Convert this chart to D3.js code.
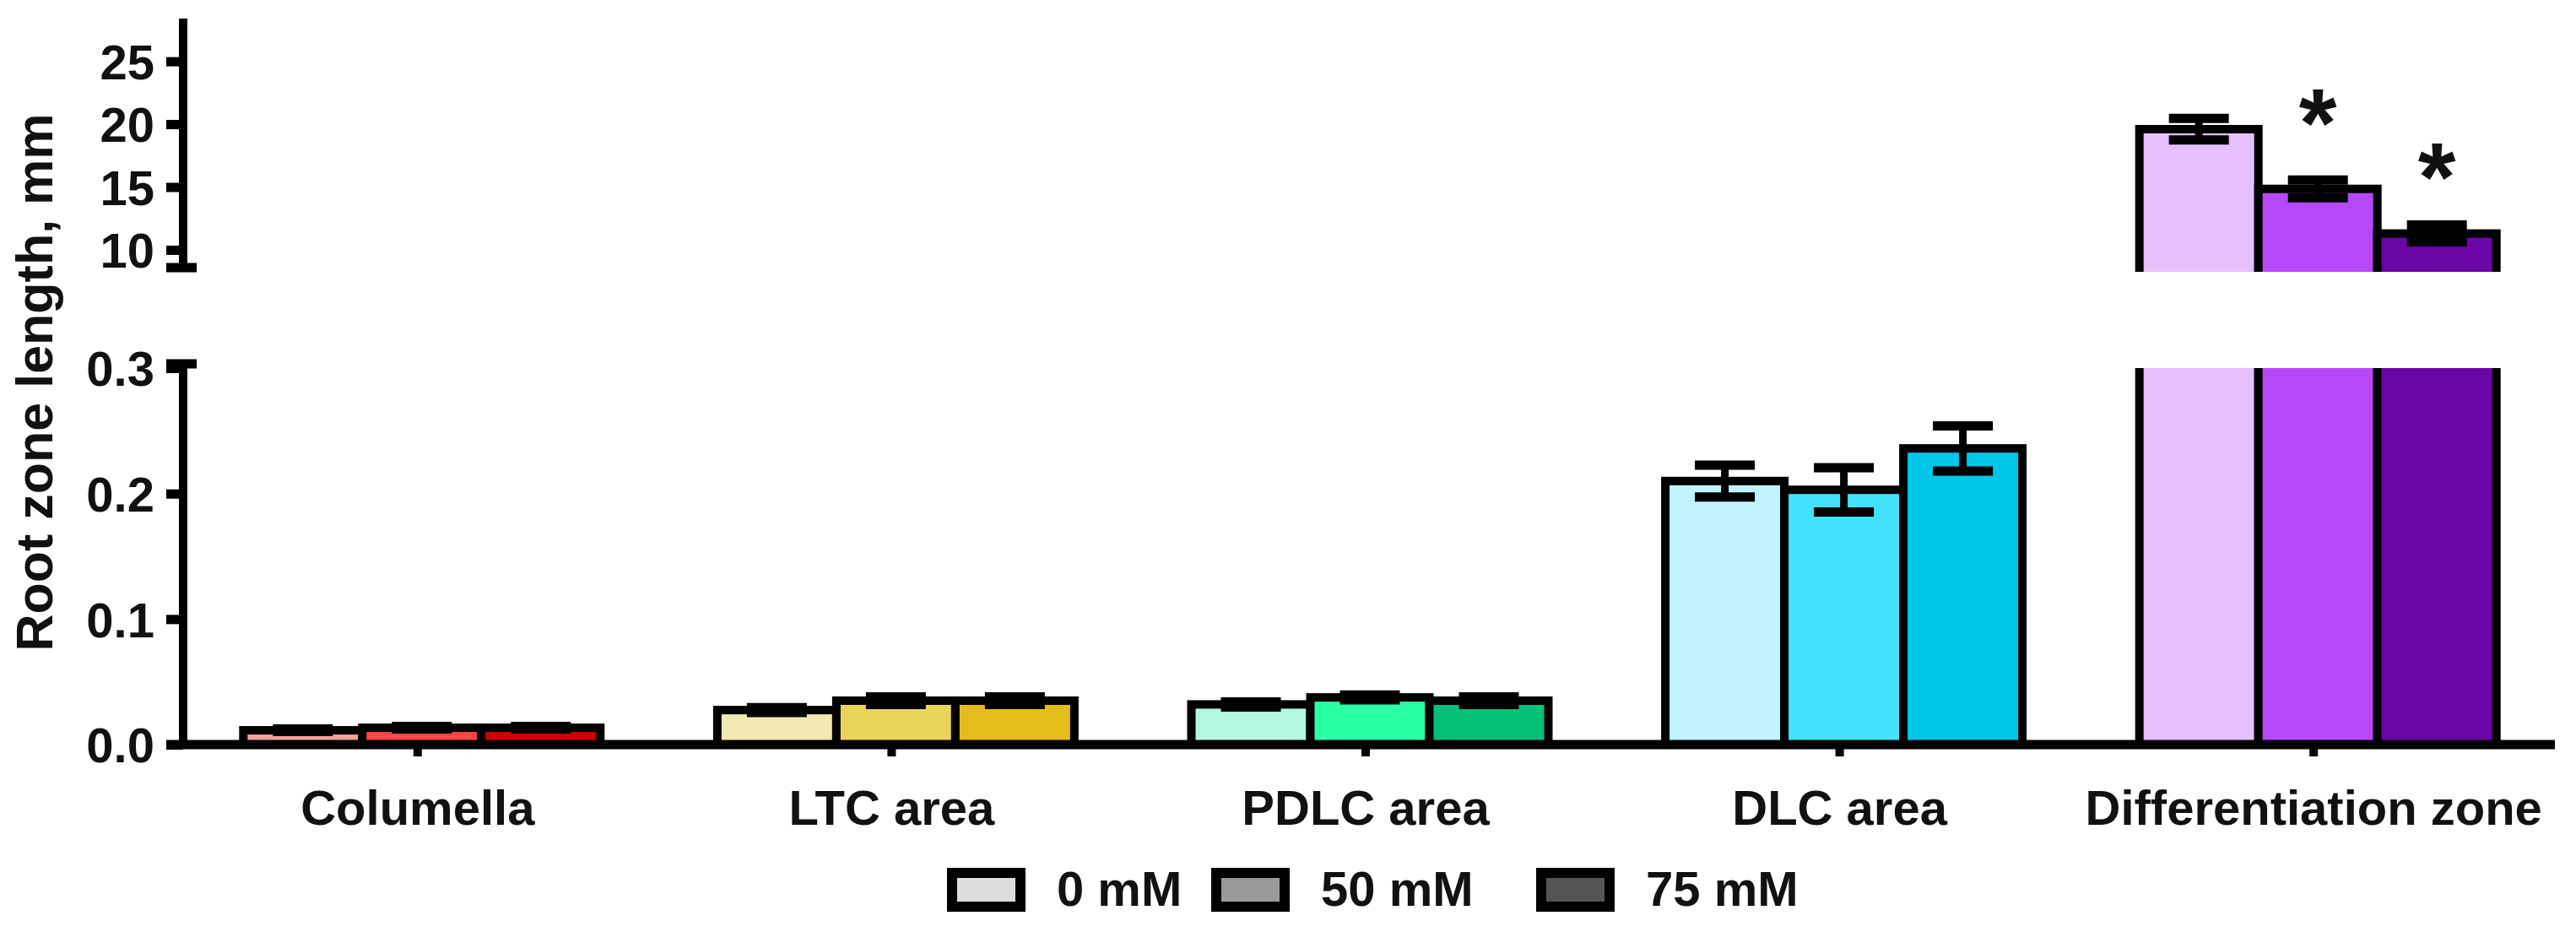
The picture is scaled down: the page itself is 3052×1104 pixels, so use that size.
<!DOCTYPE html>
<html>
<head>
<meta charset="utf-8">
<script src="https://cdn.jsdelivr.net/npm/d3@7"></script>
<style>
  html, body { margin: 0; padding: 0; background: #fff; }
  svg { display: block; }
  text { font-family: "Liberation Sans", Arial, sans-serif; font-weight: bold; fill: #111; }
</style>
</head>
<body>
<svg id="chart" width="3052" height="1104"></svg>
<script>
// ---------------- data ----------------
const categories = ["Columella", "LTC area", "PDLC area", "DLC area", "Differentiation zone"];
const series = ["0 mM", "50 mM", "75 mM"];
const mean0  = [0.0114, 0.0275, 0.0320, 0.210, 19.6];
const mean50 = [0.0134, 0.0350, 0.0376, 0.203, 14.85];
const mean75 = [0.0134, 0.0350, 0.0350, 0.236, 11.3];
const sem0   = [0.0010, 0.0020, 0.0020, 0.0127, 0.85];
const sem50  = [0.0010, 0.0030, 0.0020, 0.0177, 0.70];
const sem75  = [0.0010, 0.0030, 0.0030, 0.0180, 0.67];
const lowerTicks = [0.0, 0.1, 0.2, 0.3];
const upperTicks = [10, 15, 20, 25];
const lowerDomain = [0, 0.3];
const upperDomain = [8.25, 28.4];
const catColors = [
  ["#F7A1A1", "#FF4545", "#D30000"],
  ["#F1E8B6", "#E9D35A", "#E4BD1A"],
  ["#B4F7DF", "#2BFFA5", "#06BF78"],
  ["#C0F3FE", "#42E2FF", "#00C6E8"],
  ["#E5C0FD", "#B548F9", "#6A05A6"]
];
const legendColors = ["#DDDDDD", "#9A9A9A", "#555555"];
const significance = [
  { category: "Differentiation zone", series: "50 mM", label: "*", y: 21.6 },
  { category: "Differentiation zone", series: "75 mM", label: "*", y: 17.3 }
];
const yTitle = "Root zone length, mm";

const means = [mean0, mean50, mean75];
const sems = [sem0, sem50, sem75];
const rows = [];
categories.forEach((c, i) => series.forEach((s, j) => rows.push({
  cat: c, ser: s, ci: i, si: j, v: means[j][i], e: sems[j][i], color: catColors[i][j]
})));

// ---------------- layout ----------------
const svg = d3.select("#chart");
const axisX = 217;
const lowTop = 436, lowBot = 882;
const upTop = 22, upBot = 322;
const xRight = 3027;
const SW = 10;   // bar stroke

const x = d3.scaleBand().domain(categories).range([214, 3022]).paddingInner(0.2468).paddingOuter(0.1234);
const xs = d3.scaleBand().domain(series).range([0, x.bandwidth()]).padding(0);
const yLow = d3.scaleLinear().domain(lowerDomain).range([lowBot, lowTop]);
const yUp = d3.scaleLinear().domain(upperDomain).range([upBot, upTop]);

const defs = svg.append("defs");
defs.append("clipPath").attr("id", "clipLow").append("rect")
  .attr("x", 0).attr("y", lowTop).attr("width", 3052).attr("height", lowBot - lowTop + 20);
defs.append("clipPath").attr("id", "clipUp").append("rect")
  .attr("x", 0).attr("y", 0).attr("width", 3052).attr("height", upBot);

function drawSegment(g, y, clipId, filterFn, extendBottom) {
  const gg = g.append("g").attr("clip-path", `url(#${clipId})`);
  const data = rows.filter(filterFn);
  gg.selectAll("rect.bar").data(data).join("rect")
    .attr("class", "bar")
    .attr("x", d => x(d.cat) + xs(d.ser) + SW / 2)
    .attr("width", xs.bandwidth())
    .attr("y", d => y(d.v))
    .attr("height", d => (extendBottom ? y.range()[0] + 40 : y(0)) - y(d.v))
    .attr("fill", d => d.color)
    .attr("stroke", "#000")
    .attr("stroke-width", SW);
  const eb = gg.selectAll("g.err").data(data).join("g").attr("class", "err");
  const cx = d => x(d.cat) + xs(d.ser) + SW / 2 + xs.bandwidth() / 2;
  const capW = 71;
  eb.append("line").attr("x1", cx).attr("x2", cx)
    .attr("y1", d => y(d.v + d.e)).attr("y2", d => y(d.v - d.e))
    .attr("stroke", "#000").attr("stroke-width", 9);
  eb.append("line").attr("x1", d => cx(d) - capW / 2).attr("x2", d => cx(d) + capW / 2)
    .attr("y1", d => y(d.v + d.e)).attr("y2", d => y(d.v + d.e))
    .attr("stroke", "#000").attr("stroke-width", 11);
  eb.append("line").attr("x1", d => cx(d) - capW / 2).attr("x2", d => cx(d) + capW / 2)
    .attr("y1", d => y(d.v - d.e)).attr("y2", d => y(d.v - d.e))
    .attr("stroke", "#000").attr("stroke-width", 11);
}

drawSegment(svg, yLow, "clipLow", d => true, false);
drawSegment(svg, yUp, "clipUp", d => d.v > lowerDomain[1], true);

// ---------------- axes ----------------
const fontSize = 58;
function yAxis(scale, ticks, fmt, top, bottom, capBottom) {
  const g = svg.append("g").attr("transform", `translate(${axisX},0)`);
  g.call(d3.axisLeft(scale).tickValues(ticks).tickFormat(fmt).tickSize(20).tickPadding(14));
  g.select(".domain").remove();
  g.selectAll(".tick line").attr("stroke", "#000").attr("stroke-width", 11);
  g.selectAll(".tick text").style("font-size", fontSize + "px").attr("fill", "#111").attr("dy", "0.36em");
  g.append("line").attr("x1", 0).attr("x2", 0).attr("y1", top).attr("y2", bottom)
    .attr("stroke", "#000").attr("stroke-width", 10);
  const capY = capBottom ? bottom : top;
  g.append("line").attr("x1", -20).attr("x2", 16).attr("y1", capY).attr("y2", capY)
    .attr("stroke", "#000").attr("stroke-width", 11);
}
yAxis(yLow, lowerTicks, d3.format(".1f"), lowTop - 5, lowBot, false);
yAxis(yUp, upperTicks, d3.format("d"), upTop, upBot - 5, true);

// x axis
const gx = svg.append("g").attr("transform", `translate(0,${lowBot})`);
gx.call(d3.axisBottom(x).tickSize(14).tickPadding(40));
gx.select(".domain").remove();
gx.selectAll(".tick line").attr("stroke", "#000").attr("stroke-width", 10);
gx.selectAll(".tick text").style("font-size", fontSize + "px").attr("fill", "#111").attr("dy", "0.71em");
gx.append("line").attr("x1", axisX - 20).attr("x2", xRight).attr("y1", 0).attr("y2", 0)
  .attr("stroke", "#000").attr("stroke-width", 11);

// y title
svg.append("text")
  .attr("transform", `translate(62,453) rotate(-90)`)
  .attr("text-anchor", "middle")
  .style("font-size", "61px")
  .text(yTitle);

// significance
svg.selectAll("text.sig").data(significance).join("text")
  .attr("class", "sig")
  .attr("x", d => x(d.category) + xs(d.series) + SW / 2 + xs.bandwidth() / 2)
  .attr("y", d => yUp(d.y) + 62)
  .attr("text-anchor", "middle")
  .style("font-size", "115px")
  .text(d => d.label);

// legend
const legendX = [1122, 1435, 1820];
const lg = svg.append("g");
series.forEach((s, i) => {
  lg.append("rect").attr("x", legendX[i] + 6).attr("y", 1034).attr("width", 81).attr("height", 40)
    .attr("fill", legendColors[i]).attr("stroke", "#000").attr("stroke-width", 12);
  lg.append("text").attr("x", legendX[i] + 130).attr("y", 1073)
    .style("font-size", fontSize + "px").text(s);
});
</script>
</body>
</html>
